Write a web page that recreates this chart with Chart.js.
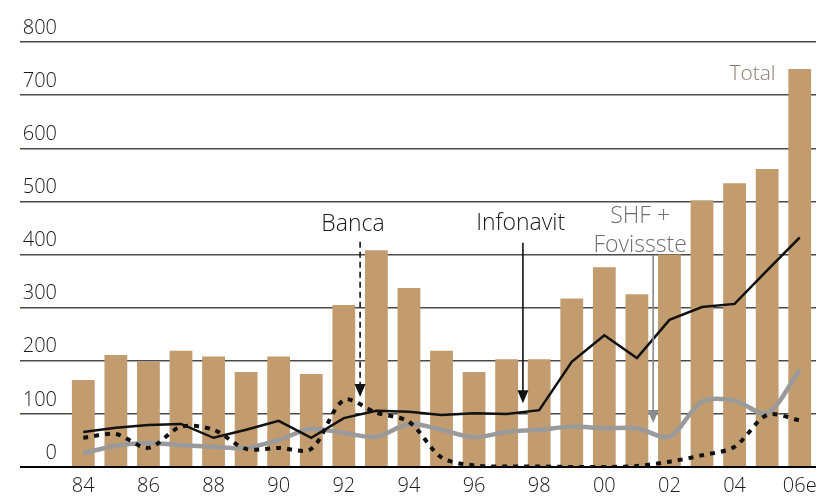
<!DOCTYPE html>
<html><head><meta charset="utf-8">
<script src="https://cdn.jsdelivr.net/npm/chart.js@4.4.1/dist/chart.umd.min.js"></script>
<style>html,body{margin:0;padding:0;background:#fff;}</style>
</head><body>
<canvas id="c" width="820" height="498"></canvas>
<script>
const years = ['84','85','86','87','88','89','90','91','92','93','94','95','96','97','98','99','00','01','02','03','04','05','06e'];
const total = [164, 211, 198, 219, 208, 179, 208, 175, 305, 408, 337, 219, 179, 203, 203, 317, 376, 325, 400, 502, 534, 561, 749];
const infonavit = [66, 74, 79, 81, 55, 70, 87, 55, 92, 106, 104, 98, 101, 100, 107, 198, 248, 205, 277, 301, 307, 370, 432];
const shfFovissste = [26, 40, 45, 41, 38, 36, 51, 72, 64, 57, 81, 70, 56, 66, 70, 76, 73, 73, 57, 123, 125, 101, 183];
const banca = [55, 62, 36, 76, 70, 34, 36, 34, 126, 102, 85, 18, 3, 1, 1, 0, 0, 2, 10, 22, 38, 98, 88];
const yTicks = [0, 100, 200, 300, 400, 500, 600, 700, 800];

const FONT = '"Open Sans", "DejaVu Sans", sans-serif';

// annotations in data space (x = category index, y = value)
const labels = [
  {lines: ['Banca'], x: 8.28, y: 457, color: '#1a1a1a', size: 23},
  {lines: ['Infonavit'], x: 13.43, y: 459, color: '#1a1a1a', size: 23},
  {lines: ['SHF +', 'Fovissste'], x: 17.1, y: 472, color: '#707070', size: 23},
  {lines: ['Total'], x: 20.55, y: 740, color: '#8a7d70', size: 21}
];
const arrows = [
  {x: 8.5, from: 424, to: 132, color: '#111', dash: [6, 4]},
  {x: 13.5, from: 422, to: 120, color: '#111', dash: []},
  {x: 17.5, from: 399, to: 83, color: '#8a8a8a', dash: []}
];

const annotate = {
  id: 'annotate',
  afterDatasetsDraw(chart) {
    const {ctx, scales: {x, y}} = chart;
    ctx.save();
    arrows.forEach(a => {
      const px = x.getPixelForValue(a.x);
      const y1 = y.getPixelForValue(a.from);
      const y2 = y.getPixelForValue(a.to);
      const head = 13;
      ctx.strokeStyle = a.color;
      ctx.fillStyle = a.color;
      ctx.lineWidth = 1.6;
      ctx.setLineDash(a.dash);
      ctx.beginPath();
      ctx.moveTo(px, y1);
      ctx.lineTo(px, y2 - head + 1);
      ctx.stroke();
      ctx.setLineDash([]);
      ctx.beginPath();
      ctx.moveTo(px - 5.5, y2 - head);
      ctx.lineTo(px + 5.5, y2 - head);
      ctx.lineTo(px, y2);
      ctx.closePath();
      ctx.fill();
    });
    ctx.textAlign = 'center';
    ctx.textBaseline = 'middle';
    labels.forEach(l => {
      ctx.font = '300 ' + l.size + 'px ' + FONT;
      const px = x.getPixelForValue(l.x);
      const py = y.getPixelForValue(l.y);
      ctx.fillStyle = l.color;
      l.lines.forEach((t, i) => ctx.fillText(t, px, py + i * 29));
    });
    ctx.restore();
  }
};

new Chart(document.getElementById('c'), {
  data: {
    labels: years,
    datasets: [
      {type: 'line', label: 'Infonavit', data: infonavit, borderColor: '#111', borderWidth: 2.5, pointRadius: 0, tension: 0, order: 1},
      {type: 'line', label: 'Banca', data: banca, borderColor: '#111', borderWidth: 4, borderDash: [5, 6], pointRadius: 0, tension: 0.3, order: 2},
      {type: 'line', label: 'SHF + Fovissste', data: shfFovissste, borderColor: '#9a9a9a', borderWidth: 4.5, pointRadius: 0, tension: 0.3, order: 3},
      {type: 'bar', label: 'Total', data: total, backgroundColor: '#c29b6e', barPercentage: 0.7, categoryPercentage: 1.0, order: 4}
    ]
  },
  options: {
    responsive: false,
    animation: false,
    devicePixelRatio: 1,
    layout: {padding: {left: 20, right: 4, top: 42, bottom: 0}},
    plugins: {legend: {display: false}, tooltip: {enabled: false}},
    scales: {
      x: {
        grid: {display: false},
        border: {display: false},
        afterFit(s) { s.height = 31; },
        ticks: {
          autoSkip: false, maxRotation: 0, padding: 0,
          color: '#1a1a1a',
          font: {family: FONT, size: 20, weight: '300', lineHeight: 1.1},
          callback: (v, i) => (i % 2 === 0 ? years[i] : '')
        }
      },
      y: {
        min: 0, max: 800,
        afterBuildTicks(s) { s.ticks = yTicks.map(v => ({value: v})); },
        afterFit(s) { s.width = 47; },
        border: {display: false},
        grid: {
          tickLength: 47,
          color: c => (c.tick && c.tick.value === 0 ? '#000' : '#4f4a45'),
          tickColor: c => (c.tick && c.tick.value === 0 ? '#000' : '#4f4a45'),
          lineWidth: c => (c.tick && c.tick.value === 0 ? 2 : 1.5)
        },
        ticks: {
          padding: -37,
          labelOffset: -14,
          color: '#1a1a1a',
          font: {family: FONT, size: 20, weight: '300'}
        }
      }
    }
  },
  plugins: [annotate]
});
</script>
</body></html>
